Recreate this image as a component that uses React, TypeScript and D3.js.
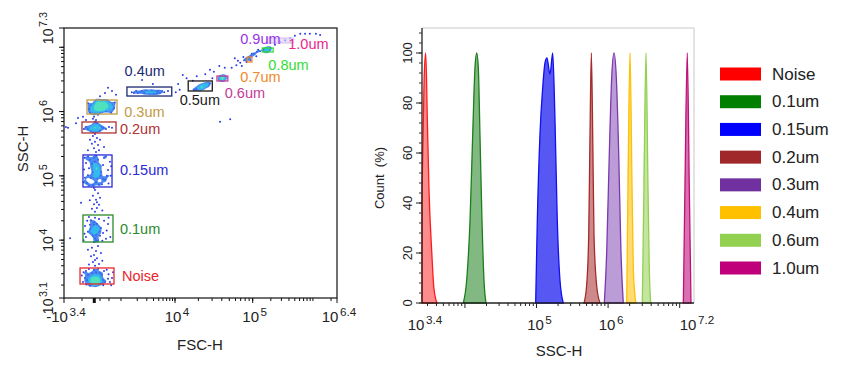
import * as d3 from "d3";

const W = 844;
const H = 369;
const FONT = "'Liberation Sans', Arial, Helvetica, sans-serif";

// ---------- scatter events: [FSC-H display value, log10(SSC-H)] ----------
const NOISE_EVENTS: [number, number][] = [
  [0.08, 3.38], [-0.15, 3.36], [0.3, 3.36], [-0.37, 3.4], [0.53, 3.4], [-0.03, 3.41], [0.19, 3.43],
  [-0.26, 3.35], [0.42, 3.35], [-0.59, 3.36], [0.75, 3.36], [0.08, 3.33], [-0.15, 3.44], [0.3, 3.46],
  [0.64, 3.43], [-0.48, 3.43], [0.98, 3.38], [-0.82, 3.38], [1.2, 3.35], [-0.03, 3.32], [0.53, 3.32],
  [-0.37, 3.32], [0.19, 3.5], [-0.26, 3.49], [0.64, 3.49], [-1.04, 3.41], [1.54, 3.4], [-0.71, 3.46],
  [0.86, 3.46], [-0.03, 3.54], [0.42, 3.55], [-1.27, 3.35], [1.76, 3.35], [1.99, 3.41], [-0.93, 3.52],
  [1.09, 3.52], [0.19, 3.29], [-0.48, 3.29], [0.0, 3.37], [0.22, 3.39], [-0.1, 3.38], [0.36, 3.38],
  [0.12, 3.35], [0.26, 3.34], [-0.2, 3.37], [0.45, 3.37],
  [-1.4, 3.45], [1.9, 3.3], [2.1, 3.5], [-1.2, 3.5], [1.4, 3.54], [-0.6, 3.55], [1.0, 3.3],
  [-0.9, 3.31], [1.6, 3.47],
];
const COLUMN_TRAIL: [number, number][] = [
  [0.08, 3.6], [-0.15, 3.66], [0.3, 3.72], [-0.03, 3.77], [0.19, 3.83], [-0.26, 3.88], [0.42, 3.91],
  [0.08, 3.69], [0.53, 3.63], [-0.37, 3.75], [-0.71, 3.85], [0.75, 3.8], [0.9, 3.68], [-0.6, 3.62],
  [0.08, 4.44], [0.3, 4.5], [-0.03, 4.56], [0.19, 4.63], [-0.15, 4.69], [0.42, 4.73], [0.08, 4.78],
  [0.53, 4.55], [-0.26, 4.49], [0.64, 4.66], [-0.03, 4.81], [0.3, 4.59], [-1.49, 4.58], [-2.72, 4.03],
  [0.9, 4.46], [-0.5, 4.62],
  [0.19, 5.37], [-0.03, 5.43], [0.42, 5.48], [0.08, 5.53], [0.3, 5.59], [-0.15, 5.62], [0.53, 5.4],
  [-0.26, 5.5], [0.64, 5.56], [0.08, 5.65], [-0.71, 5.4], [1.09, 5.45], [-0.48, 5.56],
  [0.19, 5.87], [-0.03, 5.92], [0.42, 5.95], [0.08, 5.84], [-0.15, 5.89], [0.3, 5.81], [-1.83, 5.9],
  [1.2, 6.29], [1.99, 6.32], [2.44, 6.26], [0.64, 6.24], [1.54, 6.37], [-0.93, 5.87], [-1.27, 5.92],
  [-2.05, 5.82],
];
const UM010_EVENTS: [number, number][] = [
  [0.08, 4.16], [-0.15, 4.19], [0.3, 4.13], [-0.03, 4.24], [0.19, 4.08], [-0.26, 4.11], [0.42, 4.2],
  [0.08, 4.03], [-0.37, 4.17], [0.53, 4.14], [-0.03, 4.28], [0.3, 4.25], [-0.15, 4.07], [0.19, 4.0],
  [0.64, 4.07], [-0.48, 4.24], [0.75, 4.19], [-0.71, 4.13], [0.98, 4.11], [0.08, 4.35], [0.53, 4.33],
  [-0.37, 4.31], [-0.93, 4.05], [1.31, 4.02], [-1.04, 4.22], [1.54, 4.25], [-0.03, 3.97], [0.42, 3.99],
  [-0.26, 4.13], [0.19, 4.17], [-0.03, 4.14], [0.3, 4.19],
  [-1.1, 4.1], [1.4, 4.15], [1.1, 4.3], [-0.8, 4.3], [1.8, 4.05], [-1.2, 4.0], [0.9, 3.99],
  [-0.6, 4.36], [1.6, 4.35],
];
const UM015_EVENTS: [number, number][] = [
  [0.19, 5.09], [-0.03, 5.15], [0.42, 5.03], [0.08, 5.22], [0.3, 4.97], [-0.15, 5.06], [0.53, 5.12],
  [0.19, 4.9], [-0.26, 5.19], [0.64, 5.0], [-0.03, 5.28], [0.42, 5.25], [-0.37, 4.97], [0.75, 5.06],
  [0.08, 5.01], [0.3, 5.17], [-0.59, 5.12], [0.98, 5.17], [-0.71, 5.01], [1.2, 4.94], [-0.48, 5.25],
  [1.09, 5.28], [-0.93, 5.2], [1.54, 5.09], [-1.04, 4.97], [1.76, 5.22], [-0.15, 4.86], [0.53, 4.86],
  [0.19, 5.31], [0.86, 4.87], [-0.82, 4.89], [1.43, 5.0], [0.08, 5.12], [0.3, 5.08], [-0.03, 4.98],
  [0.42, 5.14],
  [-1.15, 5.1], [1.85, 5.0], [1.6, 4.88], [-1.1, 5.28], [1.3, 5.3], [-0.6, 4.85], [1.0, 4.95],
  [-0.7, 5.3], [1.9, 5.15], [-1.2, 4.9],
];
const UM020_EVENTS: [number, number][] = [
  [0.08, 5.75], [-0.26, 5.76], [0.42, 5.73], [-0.48, 5.75], [0.75, 5.76], [-0.03, 5.78], [0.3, 5.71],
  [-0.71, 5.73], [0.98, 5.75], [-0.93, 5.76], [1.31, 5.73], [-0.15, 5.71], [0.53, 5.78], [1.65, 5.76],
  [-1.16, 5.73], [1.99, 5.75], [0.19, 5.79], [-0.37, 5.7], [0.64, 5.7], [0.08, 5.73], [-2.95, 5.75],
  [-3.18, 5.76],
];
const UM030_EVENTS: [number, number][] = [
  [0.64, 6.06], [0.3, 6.09], [0.98, 6.07], [0.53, 6.12], [0.86, 6.03], [0.19, 6.04], [1.2, 6.1],
  [-0.03, 6.07], [1.43, 6.06], [0.64, 5.99], [0.42, 6.15], [1.09, 6.13], [-0.15, 6.01], [1.31, 6.01],
  [0.75, 6.09], [0.53, 6.04], [0.98, 6.12], [0.19, 6.12], [1.65, 6.09], [-0.37, 6.09], [1.54, 6.13],
  [0.08, 5.99], [0.86, 6.16], [1.76, 6.04], [-0.59, 6.04], [1.99, 6.1], [0.3, 6.06], [0.75, 6.06],
  [1.09, 6.06], [0.64, 6.1],
  [-0.7, 6.13], [2.2, 6.05], [2.3, 6.14], [-0.5, 5.98], [1.9, 5.98], [0.2, 6.17], [1.4, 6.17],
];
const UM040_EVENTS: [number, number][] = [
  [3.2, 6.3], [3.28, 6.32], [3.35, 6.3], [3.43, 6.29], [3.5, 6.3], [3.57, 6.32], [3.65, 6.3], [3.72, 6.29],
  [3.8, 6.3], [3.87, 6.32], [3.39, 6.32], [3.46, 6.32], [3.54, 6.29], [3.61, 6.29], [3.69, 6.32],
  [3.31, 6.29], [3.76, 6.32], [3.24, 6.29], [3.52, 6.3], [3.44, 6.3], [3.59, 6.3], [3.67, 6.29],
  [3.39, 6.49], [3.59, 6.43],
];
const MID_SCATTER: [number, number][] = [
  [4.01, 6.3], [4.06, 6.34], [4.1, 6.57], [4.15, 6.52], [4.23, 6.48], [4.04, 6.43], [4.28, 6.55],
  [4.39, 6.58], [4.45, 6.65], [4.5, 6.62], [4.57, 6.71], [4.64, 6.68], [4.58, 5.84], [4.71, 5.88],
  [4.48, 6.52],
];
const UM050_EVENTS: [number, number][] = [
  [4.27, 6.35], [4.31, 6.37], [4.35, 6.38], [4.39, 6.4], [4.42, 6.41], [4.32, 6.38], [4.36, 6.4],
  [4.34, 6.37], [4.4, 6.43], [4.24, 6.34], [4.45, 6.44],
];
const UM060_EVENTS: [number, number][] = [
  [4.58, 6.51], [4.6, 6.52], [4.63, 6.52], [4.59, 6.52], [4.62, 6.51], [4.64, 6.54],
];
const UM070_EVENTS: [number, number][] = [
  [4.73, 6.68], [4.79, 6.72], [4.84, 6.76], [4.89, 6.8], [4.93, 6.82], [4.95, 6.85], [4.98, 6.86],
  [5.02, 6.9], [5.07, 6.93], [5.12, 6.94], [4.81, 6.79], [4.88, 6.85], [4.92, 6.77], [4.97, 6.8],
  [4.99, 6.9], [5.06, 6.86], [5.09, 6.96], [4.77, 6.83], [4.86, 6.71],
];
const UM080_EVENTS: [number, number][] = [
  [5.19, 6.96], [5.24, 6.97], [5.29, 6.99], [5.22, 6.94], [5.27, 6.96],
];
const TOP_EVENTS: [number, number][] = [
  [5.37, 7.04], [5.46, 7.08], [5.54, 7.11], [5.62, 7.14], [5.7, 7.18], [5.79, 7.21], [5.87, 7.21],
  [5.95, 7.21], [6.05, 7.21], [6.12, 7.19],
];
// each listed event stands for this many recorded events
const SCATTER_GROUPS = [
  { events: NOISE_EVENTS, weight: 1.6 },
  { events: COLUMN_TRAIL, weight: 1 },
  { events: UM010_EVENTS, weight: 1.6 },
  { events: UM015_EVENTS, weight: 2.2 },
  { events: UM020_EVENTS, weight: 1.8 },
  { events: UM030_EVENTS, weight: 2.6 },
  { events: UM040_EVENTS, weight: 1.5 },
  { events: MID_SCATTER, weight: 1 },
  { events: UM050_EVENTS, weight: 2.2 },
  { events: UM060_EVENTS, weight: 2.5 },
  { events: UM070_EVENTS, weight: 1.4 },
  { events: UM080_EVENTS, weight: 2.5 },
  { events: TOP_EVENTS, weight: 1 },
];

// ---------- gates ----------
const GATE_NAMES = ["Noise", "0.1um", "0.15um", "0.2um", "0.3um", "0.4um", "0.5um", "0.6um", "0.7um", "0.8um", "0.9um", "1.0um"];
const GATE_FSC: ([number, number] | null)[] = [
  [-1.6, 2.21], [-1.27, 2.1], [-1.27, 1.99], [-1.38, 2.44], [-0.82, 2.55], [3.11, 3.94],
  [4.17, 4.48], [4.54, 4.68], [4.93, 4.99], [5.16, 5.34], [5.24, 5.67], null,
];
const GATE_SSC: ([number, number] | null)[] = [
  [3.318, 3.567], [3.971, 4.391], [4.827, 5.325], [5.667, 5.838], [5.962, 6.18], [6.242, 6.382],
  [6.32, 6.476], [6.476, 6.553], [6.771, 6.849], [6.927, 6.989], [7.067, 7.144], null,
];
const GATE_LABEL_FSC = [3.02, 2.88, 2.88, 2.88, 3.06, 3.44, 4.32, 4.64, 4.84, 5.26, 4.84, 5.59];
const GATE_LABEL_SSC = [3.44, 4.18, 5.09, 5.73, 6.0, 6.63, 6.18, 6.29, 6.54, 6.72, 7.13, 7.05];
const GATE_LABEL_ANCHOR = ["start", "start", "start", "start", "start", "middle", "middle", "start", "start", "start", "start", "start"];
const GATE_COLORS = ["#e8262a", "#2a8a2a", "#2a2ad8", "#b03232", "#c29a45", "#1c2a72", "#1a1a1a", "#c23c98", "#f08a28", "#33dd33", "#9a34e6", "#e8288c"];

const SCAT_X_LABELS = [
  { v: -3.4, base: "-10", exp: "3.4" },
  { v: 4, base: "10", exp: "4" },
  { v: 5, base: "10", exp: "5" },
  { v: 6.4, base: "10", exp: "6.4" },
];
const SCAT_Y_LABELS = [
  { v: 3.1, exp: "3.1" },
  { v: 4, exp: "4" },
  { v: 5, exp: "5" },
  { v: 6, exp: "6" },
  { v: 7.3, exp: "7.3" },
];

// ---------- histogram: [log10(SSC-H), count %] ----------
const HIST_NOISE: [number, number][] = [[3.4, 44], [3.43, 90], [3.452, 100], [3.475, 73], [3.497, 46], [3.537, 20], [3.566, 6], [3.61, 0]];
const HIST_010: [number, number][] = [[3.977, 0], [4.024, 9], [4.071, 33], [4.108, 67], [4.14, 94], [4.164, 100], [4.187, 94], [4.21, 67], [4.238, 33], [4.266, 9], [4.294, 0]];
const HIST_015: [number, number][] = [[4.988, 0], [5.011, 33], [5.049, 68], [5.086, 86], [5.118, 96], [5.146, 98], [5.188, 91.5], [5.226, 100], [5.258, 73], [5.29, 33], [5.328, 9], [5.374, 0]];
const HIST_020: [number, number][] = [[5.663, 0], [5.7, 7], [5.729, 27], [5.747, 67], [5.766, 100], [5.785, 67], [5.803, 27], [5.84, 7], [5.887, 0]];
const HIST_030: [number, number][] = [[5.947, 0], [5.98, 20], [6.017, 60], [6.05, 90], [6.082, 100], [6.115, 90], [6.148, 60], [6.18, 20], [6.212, 0]];
const HIST_040: [number, number][] = [[6.26, 0], [6.278, 47], [6.306, 100], [6.334, 47], [6.353, 13], [6.387, 0]];
const HIST_060: [number, number][] = [[6.478, 0], [6.501, 47], [6.529, 100], [6.557, 47], [6.576, 13], [6.595, 0]];
const HIST_100: [number, number][] = [[7.051, 0], [7.074, 47], [7.106, 100], [7.134, 47], [7.158, 0]];
const HIST_NAMES = ["Noise", "0.1um", "0.15um", "0.2um", "0.3um", "0.4um", "0.6um", "1.0um"];
const HIST_SERIES = [HIST_NOISE, HIST_010, HIST_015, HIST_020, HIST_030, HIST_040, HIST_060, HIST_100];
const HIST_COLORS = ["#ff1a1a", "#1b7f1b", "#1010f0", "#a52a2a", "#7a3aae", "#ffc000", "#92d050", "#c0107a"];
const LEGEND_COLORS = ["#ff0000", "#007f00", "#0000ff", "#a0282a", "#7030a0", "#ffc000", "#92d050", "#c0007a"];
const HIST_FILL_OPACITY = [0.5, 0.55, 0.7, 0.55, 0.5, 0.55, 0.55, 0.6];
const HIST_X_LABELS = [
  { v: 3.4, exp: "3.4" },
  { v: 5, exp: "5" },
  { v: 6, exp: "6" },
  { v: 7.2, exp: "7.2" },
];
const HIST_Y_LABELS = [0, 20, 40, 60, 80, 100];

// density levels for pseudo-colour
const DENSITY_LEVELS = [0.1, 0.17, 0.27];
const DENSITY_COLORS = ["#2f74f0", "#30c6ec", "#55e8b4"];

function Pow({ base, exp, fs }: { base: string; exp: string; fs: number }) {
  return (
    <>
      <tspan>{base}</tspan>
      <tspan dx={1.5} dy={-fs * 0.42} fontSize={fs * 0.78}>
        {exp}
      </tspan>
    </>
  );
}

function logMinor(lo: number, hi: number) {
  const out: number[] = [];
  for (let d = Math.floor(lo); d <= Math.ceil(hi); d++) {
    for (let k = 1; k <= 9; k++) {
      const v = d + Math.log10(k);
      if (v >= lo - 1e-6 && v <= hi + 1e-6) out.push(v);
    }
  }
  return out;
}

export default function App() {
  // ----- scatter scales -----
  const sL = 64, sR = 337, sT = 28, sB = 298;
  const xSeg = [-3.4, 3, 4, 5, 6.4];
  const xSegFrac = [0, 0.2088, 0.4066, 0.6912, 1];
  const xS = d3.scaleLinear().domain(xSeg).range(xSegFrac.map((f) => sL + f * (sR - sL)));
  const yS = d3.scaleLog().domain([10 ** 3.1, 10 ** 7.3]).range([sB, sT]);

  const pts = SCATTER_GROUPS.flatMap((g) =>
    g.events.map(([u, e]) => ({ x: xS(u), y: yS(10 ** e), w: g.weight }))
  );
  const contours = d3
    .contourDensity<{ x: number; y: number; w: number }>()
    .x((d) => d.x)
    .y((d) => d.y)
    .weight((d) => d.w)
    .size([W, H])
    .cellSize(1)
    .bandwidth(2)
    .thresholds(DENSITY_LEVELS)(pts);
  const geo = d3.geoPath();

  const scatXMinor = [-1.38, 0.64, 1.65, ...logMinor(3, 6.4)];
  const scatYMinor = logMinor(3.1, 7.3);

  // ----- histogram scales -----
  const hL = 422, hR = 694, hT = 28, hB = 303;
  const hx = d3.scaleLog().domain([10 ** 3.4, 10 ** 7.2]).range([hL, hR]);
  const hy = d3.scaleLinear().domain([0, 110]).range([hB, hT]);
  const area = d3
    .area<[number, number]>()
    .x((d) => hx(10 ** d[0]))
    .y0(hy(0))
    .y1((d) => hy(d[1]))
    .curve(d3.curveMonotoneX);
  const histXMinor = logMinor(3.4, 7.2);
  const histYMinor = d3.range(0, 110, 4);

  const legendY = d3.scalePoint<string>().domain(HIST_NAMES).range([74, 268]);

  return (
    <svg width={W} height={H} style={{ position: "absolute", left: 0, top: 0, background: "#fff" }} fontFamily={FONT}>
      <defs>
        <clipPath id="scatClip">
          <rect x={sL} y={sT} width={sR - sL} height={sB - sT} />
        </clipPath>
      </defs>

      {/* ===== scatter ===== */}
      <g clipPath="url(#scatClip)">
        {pts.map((p, i) => (
          <circle key={i} cx={p.x} cy={p.y} r={1} fill="#2b3be8" />
        ))}
        {contours.map((c, i) => (
          <path key={i} d={geo(c) || ""} fill={DENSITY_COLORS[i]} opacity={0.85} />
        ))}
      </g>
      {GATE_NAMES.map((name, i) => {
        const fx = GATE_FSC[i];
        const fy = GATE_SSC[i];
        const faint = name === "0.9um";
        return (
          <g key={name}>
            {fx && fy && (
              <rect
                x={xS(fx[0])}
                y={yS(10 ** fy[1])}
                width={xS(fx[1]) - xS(fx[0])}
                height={yS(10 ** fy[0]) - yS(10 ** fy[1])}
                fill={faint ? "#d9cdf6" : "none"}
                fillOpacity={faint ? 0.6 : 0}
                stroke={faint ? "#d4c8f4" : GATE_COLORS[i]}
                strokeWidth={1.3}
              />
            )}
            <text
              x={xS(GATE_LABEL_FSC[i])}
              y={yS(10 ** GATE_LABEL_SSC[i])}
              fill={GATE_COLORS[i]}
              fontSize={14.5}
              textAnchor={GATE_LABEL_ANCHOR[i] as any}
              dominantBaseline="central"
            >
              {name}
            </text>
          </g>
        );
      })}
      <rect x={sL} y={sT} width={sR - sL} height={sB - sT} fill="none" stroke="#111" strokeWidth={1.2} />
      {/* x axis ticks */}
      {scatXMinor.map((v, i) => (
        <line key={"sxm" + i} x1={xS(v)} x2={xS(v)} y1={sB} y2={sB + 3} stroke="#111" />
      ))}
      {SCAT_X_LABELS.map((t) => (
        <line key={"sxM" + t.v} x1={xS(t.v)} x2={xS(t.v)} y1={sB} y2={sB + 5} stroke="#111" />
      ))}
      <line x1={xS(0)} x2={xS(0)} y1={sB} y2={sB + 5} stroke="#111" strokeWidth={3} />
      {SCAT_X_LABELS.map((t) => (
        <text key={"sxl" + t.v} x={xS(t.v) + 2} y={322} fontSize={15} textAnchor="middle" fill="#222">
          <Pow base={t.base} exp={t.exp} fs={15} />
        </text>
      ))}
      {/* y axis ticks */}
      {scatYMinor.map((v, i) => (
        <line key={"sym" + i} x1={sL - 3} x2={sL} y1={yS(10 ** v)} y2={yS(10 ** v)} stroke="#111" />
      ))}
      {[3.1, 4, 5, 6, 7, 7.3].map((v) => (
        <line key={"syM" + v} x1={sL - 5} x2={sL} y1={yS(10 ** v)} y2={yS(10 ** v)} stroke="#111" />
      ))}
      {SCAT_Y_LABELS.map((t) => (
        <text
          key={"syl" + t.v}
          transform={`translate(53,${yS(10 ** t.v)}) rotate(-90)`}
          fontSize={14}
          textAnchor="middle"
          fill="#222"
        >
          <Pow base="10" exp={t.exp} fs={14} />
        </text>
      ))}
      <text x={200} y={350} fontSize={15} textAnchor="middle" fill="#222">FSC-H</text>
      <text transform="translate(28,149) rotate(-90)" fontSize={15} textAnchor="middle" fill="#222">SSC-H</text>

      {/* ===== histogram ===== */}
      {HIST_SERIES.map((s, i) => (
        <path
          key={HIST_NAMES[i]}
          d={area(s) || ""}
          fill={HIST_COLORS[i]}
          fillOpacity={HIST_FILL_OPACITY[i]}
          stroke={HIST_COLORS[i]}
          strokeWidth={1.3}
        />
      ))}
      <line x1={hL} x2={hR} y1={hT} y2={hT} stroke="#c8c8c8" />
      <line x1={hR} x2={hR} y1={hT} y2={hB} stroke="#c8c8c8" />
      <line x1={hL} x2={hL} y1={hT} y2={hB} stroke="#222" strokeWidth={1.3} />
      <line x1={hL} x2={hR} y1={hB} y2={hB} stroke="#222" strokeWidth={1.3} />
      {histYMinor.map((v) => (
        <line key={"hym" + v} x1={hL - 3} x2={hL} y1={hy(v)} y2={hy(v)} stroke="#333" />
      ))}
      {HIST_Y_LABELS.map((v) => (
        <g key={"hyl" + v}>
          <line x1={hL - 6} x2={hL} y1={hy(v)} y2={hy(v)} stroke="#222" />
          <text transform={`translate(412,${hy(v)}) rotate(-90)`} fontSize={13} textAnchor="middle" fill="#222">
            {v}
          </text>
        </g>
      ))}
      {histXMinor.map((v, i) => (
        <line
          key={"hxm" + i}
          x1={hx(10 ** v)}
          x2={hx(10 ** v)}
          y1={hB}
          y2={hB + (Number.isInteger(v) || v === 3.4 ? 5 : 3)}
          stroke="#222"
        />
      ))}
      {HIST_X_LABELS.map((t) => (
        <text key={"hxl" + t.v} x={hx(10 ** t.v) + 3} y={330} fontSize={15} textAnchor="middle" fill="#222">
          <Pow base="10" exp={t.exp} fs={15} />
        </text>
      ))}
      <text x={559} y={356} fontSize={15} textAnchor="middle" fill="#222">SSC-H</text>
      <text transform="translate(384,178) rotate(-90)" fontSize={13} textAnchor="middle" fill="#222" xmlSpace="preserve">
        Count  (%)
      </text>

      {/* ===== legend ===== */}
      {HIST_NAMES.map((n, i) => (
        <g key={"lg" + n} transform={`translate(720,${legendY(n)})`}>
          <rect x={0} y={-6.5} width={41} height={13} fill={LEGEND_COLORS[i]} />
          <text x={52} y={0} fontSize={17} dominantBaseline="central" fill="#222">
            {n}
          </text>
        </g>
      ))}
    </svg>
  );
}
